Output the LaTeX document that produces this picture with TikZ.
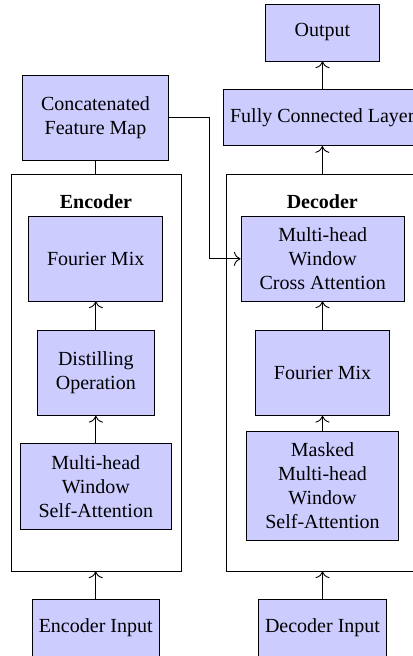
\documentclass[tikz,border=0pt]{standalone}
\usepackage{fontspec}
\setmainfont{Liberation Serif}
\usetikzlibrary{arrows.meta}
\definecolor{boxfill}{HTML}{CCCCFF}
\begin{document}
\begin{tikzpicture}[x=0.5pt,y=-0.5pt,
  blk/.style={draw, fill=boxfill, align=center, inner sep=0pt, font=\fontsize{10}{12}\selectfont},
  frame/.style={draw, inner sep=0pt},
  lbl/.style={font=\fontsize{10}{12}\selectfont\bfseries},
  conn/.style={-{To[scale=1.3]}, line width=0.45pt},
  plain/.style={line width=0.45pt}]
\useasboundingbox (0,0) rectangle (412,656);
% frames
\node[frame, minimum width=85pt, minimum height=198.5pt] (enc) at (96,372.5) {};
\node[frame, minimum width=95.7pt, minimum height=198.5pt] (dec) at (322.3,372.5) {};
\node[lbl] (enclbl) at (96,201.7) {Encoder};
\node[lbl] (declbl) at (322.3,201.7) {Decoder};
% top blocks
\node[blk, minimum width=56.8pt, minimum height=28.5pt] (out) at (322.5,32.5) {Output};
\node[blk, minimum width=72.8pt, minimum height=42.5pt] (cat) at (95.5,117.5) {Concatenated\\Feature Map};
\node[blk, minimum width=98.6pt, minimum height=28.2pt] (fc) at (322.3,117.5) {Fully Connected Layer};
% encoder blocks
\node[blk, minimum width=67pt, minimum height=42.2pt] (efm) at (95.7,258.8) {Fourier Mix};
\node[blk, minimum width=58.5pt, minimum height=42.7pt] (dist) at (95.8,372.7) {Distilling\\Operation};
\node[blk, minimum width=75.9pt, minimum height=42.9pt] (esa) at (95.8,486.2) {Multi-head\\Window\\Self-Attention};
\node[blk, minimum width=63.4pt, minimum height=28.5pt] (ein) at (95.7,627.8) {Encoder Input};
% decoder blocks
\node[blk, minimum width=81.7pt, minimum height=42.2pt] (cross) at (322.7,258.8) {Multi-head\\Window\\Cross Attention};
\node[blk, minimum width=66.8pt, minimum height=42.7pt] (dfm) at (322.5,372.7) {Fourier Mix};
\node[blk, minimum width=75.8pt, minimum height=54.2pt] (msa) at (322.5,485.8) {Masked\\Multi-head\\Window\\Self-Attention};
\node[blk, minimum width=64.2pt, minimum height=28.5pt] (din) at (322.5,627.8) {Decoder Input};
% connectors
\coordinate (bx) at (209.3,117.5);
\draw[plain] (cat.south) -- (cat.south |- enc.north);
\draw[conn] (cat.east) -- (bx) |- (cross.west);
\draw[conn] (fc.north -| out.south) -- (out.south);
\draw[conn] (dec.north -| fc.south) -- (fc.south);
\draw[conn] (ein.north) -- (ein.north |- enc.south);
\draw[conn] (din.north) -- (din.north |- dec.south);
\draw[conn] (esa.north -| dist.south) -- (dist.south);
\draw[conn] (dist.north) -- (dist.north |- efm.south);
\draw[conn] (msa.north -| dfm.south) -- (dfm.south);
\draw[conn] (dfm.north) -- (dfm.north |- cross.south);
\end{tikzpicture}
\end{document}
